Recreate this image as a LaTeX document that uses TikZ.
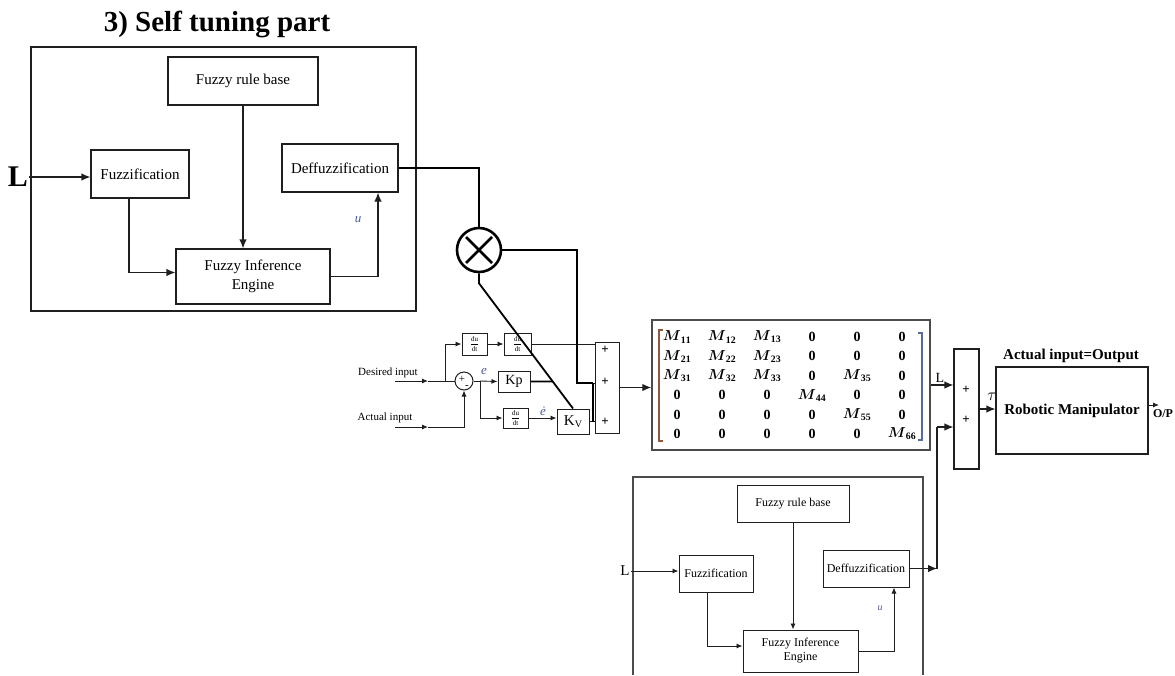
\documentclass[tikz,border=0pt]{standalone}
\usepackage{fontspec}
\setmainfont{Liberation Serif}
\usepackage{amsmath}
\usetikzlibrary{arrows.meta,calc,matrix}
\definecolor{lnc}{gray}{0.12}
\definecolor{ucol}{rgb}{0.30,0.36,0.62}
\newcommand\dudtfrac{{\fontsize{7}{7}\selectfont$\dfrac{\mathrm{du}}{\mathrm{dt}}$}}
\newcommand\Mentry[1]{$\boldsymbol{M}_{\mathbf{#1}}$}
\begin{document}
\begin{tikzpicture}[x=1pt,y=-1pt,
  frame/.style={draw=lnc, line width=1.5pt, rectangle, inner sep=0pt},
  bigbox/.style={draw=lnc, line width=1.2pt, rectangle, inner sep=0pt, align=center, font=\fontsize{15}{19}\selectfont},
  lowbox/.style={draw=lnc, line width=1pt, rectangle, inner sep=0pt, align=center, font=\fontsize{12}{15}\selectfont},
  smallbox/.style={draw=lnc, line width=1pt, rectangle, inner sep=0pt, align=center},
  ln/.style={draw=lnc, line width=1.2pt},
  arr/.style={ln, -{Latex[length=9pt,width=7.5pt]}},
  sln/.style={draw=lnc, line width=0.9pt},
  sarr/.style={sln, -{Latex[length=6pt,width=5pt]}},
  thk/.style={draw=black, line width=2.5pt},
  thkb/.style={draw=black, line width=1.8pt},
  ulab/.style={text=ucol, font=\itshape\fontsize{13}{13}\selectfont},
  plus/.style={font=\bfseries\fontsize{13}{13}\selectfont, inner sep=0pt}
]
\useasboundingbox (0,0) rectangle (1175,675);

% ---------------- top self tuning part ----------------
\node[font=\bfseries\fontsize{29}{32}\selectfont] (title) at (217,24) {3) Self tuning part};
\node[frame, minimum width=385pt, minimum height=264pt] (topframe) at (223.5,179) {};
\node[bigbox, minimum width=150pt, minimum height=48pt] (rule) at (243,81) {Fuzzy rule base};
\node[bigbox, minimum width=98pt, minimum height=48pt] (fuzz) at (140,174) {Fuzzification};
\node[bigbox, minimum width=116pt, minimum height=48pt] (deff) at (340,168) {Deffuzzification};
\node[bigbox, minimum width=154pt, minimum height=55pt] (fie) at (253,276.5) {Fuzzy Inference\\Engine};
\node[font=\bfseries\fontsize{30}{30}\selectfont, inner sep=1pt] (Lt) at (18,177) {L};
\node[ulab] (u1) at (358,220) {u};

\draw[arr] (Lt.east) -- (Lt.east -| fuzz.west);
\draw[arr] ($(fuzz.south)+(-11,0)$) |- ($(fie.west)+(0,-4)$);
\draw[arr] (rule.south) -- (rule.south |- fie.north);
\draw[arr] (fie.east) -| ($(deff.south)+(38,0)$);

% multiplier
\node[draw=black, circle, line width=2.6pt, minimum size=44pt, inner sep=0pt] (mult) at (479,250) {};
\draw[line width=2.6pt] ($(mult.center)+(-13,-13)$) -- ($(mult.center)+(13,13)$)
                        ($(mult.center)+(13,-13)$) -- ($(mult.center)+(-13,13)$);
\draw[thk] (deff.east) -| (mult.north);

% ---------------- PD block ----------------
\node[font=\fontsize{11}{11}\selectfont, inner sep=0pt] (din) at (388,373) {Desired input};
\node[font=\fontsize{11}{11}\selectfont, inner sep=0pt] (ain) at (385,418) {Actual input};
\node[draw=lnc, circle, line width=1pt, minimum size=18pt, inner sep=0pt] (sumc) at (464,381) {};
\node[font=\fontsize{11}{11}\selectfont, inner sep=0pt] (sp) at (462,379) {+};
\node[font=\fontsize{11}{11}\selectfont, inner sep=0pt] (sm) at (467,387) {-};

\node[smallbox, minimum width=25pt, minimum height=22pt] (du1) at (474.5,344) {\dudtfrac};
\node[smallbox, minimum width=27pt, minimum height=22pt] (du2) at (517.5,344) {\dudtfrac};
\node[smallbox, minimum width=25pt, minimum height=20pt] (du3) at (515.5,418) {\dudtfrac};
\node[smallbox, minimum width=32pt, minimum height=21pt, font=\fontsize{14}{14}\selectfont] (kp) at (514,381.5) {Kp};
\node[smallbox, minimum width=32pt, minimum height=25pt, font=\fontsize{15}{15}\selectfont] (kv) at (573,421.5) {K\raisebox{-2.5pt}{\fontsize{10}{10}\selectfont V}};
\node[smallbox, minimum width=24pt, minimum height=91pt] (sum1) at (607,387.5) {};
\node[plus] (p11) at (605,350) {+};
\node[plus] (p12) at (605,382) {+};
\node[plus] (p13) at (605,422) {+};
\node[text=ucol, font=\itshape\fontsize{13}{13}\selectfont, inner sep=0pt] (elab) at (484,371) {e};
\node[text=ucol, font=\itshape\fontsize{13}{13}\selectfont, inner sep=0pt] (edlab) at (543,411) {\.e};

\coordinate (dstart) at (395,381);
\coordinate (dmid) at (428,381);
\coordinate (br1) at (445,381);
\coordinate (astart) at (395,427);
\coordinate (amid) at (428,427);
\coordinate (br2) at (480,381);

\draw[sarr] (dstart) -- (dmid);
\draw[sln] (dmid) -- (sumc.west);
\draw[sarr] (br1) |- (du1.west);
\draw[sarr] (du1.east) -- (du2.west);
\draw[sln] (du2.east) -- (du2.east -| sum1.west);
\draw[sarr] (astart) -- (amid);
\draw[sarr] (amid) -| (sumc.south);
\draw[sln] (sumc.east) -- (br2);
\draw[sarr] (br2) -- (kp.west);
\draw[sarr] (br2) |- (du3.west);
\draw[sarr] (du3.east) -- (du3.east -| kv.west);
\draw[sln] (kv.east) -- (kv.east -| sum1.west);

% gain tuning paths
\coordinate (d1) at ($(mult.south)+(0,10)$);
\coordinate (kpr) at ($(kp.east)+(60,0)$);
\coordinate (kpj) at (intersection of kp.east--kpr and d1--kv.north);
\draw[thkb] (mult.south) -- (d1) -- (kv.north);
\draw[thkb] (kp.east) -- (kpj);
\coordinate (tj) at (577,383);
\coordinate (tj2) at (593,383);
\coordinate (tj3) at (593,422);
\draw[thk] (mult.east) -| (tj) -- (tj2);
\draw[sln] (tj2) -- (tj2 -| sum1.west);
\draw[thk] (tj2) -- (tj3);

% ---------------- matrix ----------------
\node[draw=black!70, line width=1.5pt, minimum width=278pt, minimum height=130pt, inner sep=0pt] (matbox) at (791,385) {};
\draw[arr] (sum1.east) -- (sum1.east -| matbox.west);
\matrix (M) [matrix of nodes, column sep=0pt, row sep=0pt,
  nodes={minimum width=45pt, minimum height=19.4pt, inner sep=0pt, anchor=center, font=\bfseries\fontsize{14}{14}\selectfont}]
  at (789.5,385.5) {
  \Mentry{11} & \Mentry{12} & \Mentry{13} & 0 & 0 & 0 \\
  \Mentry{21} & \Mentry{22} & \Mentry{23} & 0 & 0 & 0 \\
  \Mentry{31} & \Mentry{32} & \Mentry{33} & 0 & \Mentry{35} & 0 \\
  0 & 0 & 0 & \Mentry{44} & 0 & 0 \\
  0 & 0 & 0 & 0 & \Mentry{55} & 0 \\
  0 & 0 & 0 & 0 & 0 & \Mentry{66} \\
};
\draw[draw={rgb,1:red,0.55;green,0.35;blue,0.25}, line width=1.1pt] (663,330) -- (659,330) -- (659,441) -- (663,441);
\draw[draw={rgb,1:red,0.35;green,0.42;blue,0.6}, line width=1.1pt] (918,333) -- (922,333) -- (922,440) -- (918,440);

% ---------------- output side ----------------
\node[smallbox, line width=1.1pt, minimum width=25pt, minimum height=120pt] (sum2) at (966.5,409) {};
\node[plus] (p21) at (966,390) {+};
\node[plus] (p22) at (966,420) {+};
\node[font=\fontsize{14}{14}\selectfont, inner sep=0pt] (Llab) at (940,378) {L};
\draw[arr] (matbox.east) -- (matbox.east -| sum2.west);
\node[font=\fontsize{16}{16}\selectfont, inner sep=0pt] (tau) at (992,397) {$\tau$};
\node[draw=lnc, line width=1.2pt, minimum width=152pt, minimum height=87pt, inner sep=0pt, font=\bfseries\fontsize{15}{15}\selectfont] (robot) at (1072,410.5) {Robotic Manipulator};
\node[font=\bfseries\fontsize{15}{15}\selectfont, inner sep=0pt] (ai2) at (1071,356) {Actual input=Output};
\draw[arr] (sum2.east) -- (sum2.east -| robot.west);
\coordinate (op) at (1159,405);
\draw[sarr] (robot.east |- op) -- (op);
\node[font=\bfseries\fontsize{12}{12}\selectfont, inner sep=0pt] (opt) at (1163,414) {O/P};

% ---------------- lower fuzzy block ----------------
\draw[draw=black!70, line width=1.5pt] (633,675) -- (633,477) -- (923,477) -- (923,675);
\node[lowbox, minimum width=112pt, minimum height=37pt] (rule2) at (793,503.5) {Fuzzy rule base};
\node[lowbox, minimum width=74pt, minimum height=37pt] (fuzz2) at (716,573.5) {Fuzzification};
\node[lowbox, minimum width=86pt, minimum height=37pt] (deff2) at (866,568.5) {Deffuzzification};
\node[lowbox, minimum width=115pt, minimum height=42pt, font=\fontsize{12}{14}\selectfont] (fie2) at (800.5,651) {Fuzzy Inference\\Engine};
\node[font=\fontsize{15}{15}\selectfont, inner sep=1pt] (L2) at (625,571) {L};
\node[ulab, font=\itshape\fontsize{10}{10}\selectfont] (u2) at (880,608) {u};

\draw[sarr] (L2.east) -- (L2.east -| fuzz2.west);
\draw[sarr] ($(fuzz2.south)+(-9,0)$) |- ($(fie2.west)+(0,-5)$);
\draw[sarr] (rule2.south) -- (rule2.south |- fie2.north);
\draw[sarr] (fie2.east) -| ($(deff2.south)+(28,0)$);
\coordinate (j2) at (937,568.5);
\coordinate (s2in) at (937,427);
\draw[arr] (deff2.east) -- (j2);
\draw[ln] (j2) -- (s2in);
\draw[arr] (s2in) -- (s2in -| sum2.west);
\end{tikzpicture}
\end{document}
